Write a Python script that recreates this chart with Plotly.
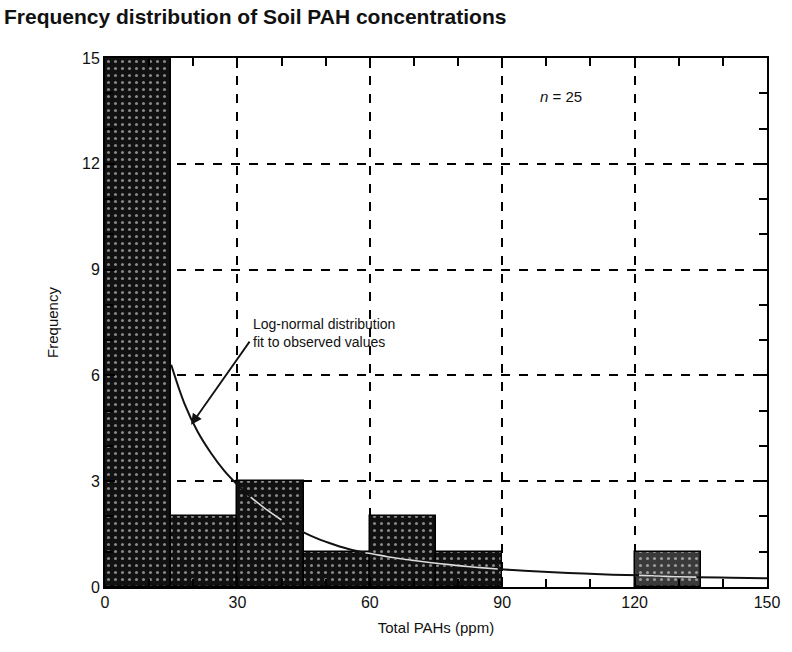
import plotly.graph_objects as go

# Histogram data (bins of 15 ppm)
bin_left = [0, 15, 30, 45, 60, 75, 120]
bin_width = 15
counts = [15, 2, 3, 1, 2, 1, 1]

# Log-normal fit curve
fit_x = [15, 18, 21, 24, 27, 30, 33, 36, 40, 45, 48, 52, 56, 59, 61, 64, 67, 70, 74, 76, 79,
         82, 85, 89, 95, 105, 115, 121, 124, 127, 130, 134, 142, 150]
fit_y = [6.3, 5.2, 4.4, 3.8, 3.3, 2.9, 2.55, 2.25, 1.9, 1.55, 1.38, 1.2, 1.05, 0.97, 0.93, 0.86,
         0.8, 0.75, 0.69, 0.66, 0.62, 0.58, 0.55, 0.51, 0.46, 0.4, 0.35, 0.33, 0.32, 0.3, 0.29,
         0.28, 0.26, 0.25]

x_ticks = [0, 30, 60, 90, 120, 150]
y_ticks = [0, 3, 6, 9, 12, 15]

bar_colors = ["#111111"] * 6 + ["#3a3a3a"]

centers = [b + bin_width / 2 for b in bin_left]


def height_at(x):
    for b, c in zip(bin_left, counts):
        if b < x < b + bin_width:
            return c
    return 0


# portion of the curve that lies over the black bars is seen as a pale line
inside_y = [y if y < height_at(x) else None for x, y in zip(fit_x, fit_y)]

fig = go.Figure()
fig.add_trace(go.Bar(
    x=centers, y=counts, width=[bin_width] * len(counts),
    marker=dict(color=bar_colors, line=dict(color="#000000", width=1.5),
                pattern=dict(shape=".", fgcolor="#bbbbbb", bgcolor="#111111",
                             size=7, solidity=0.15)),
    showlegend=False, hoverinfo="skip",
))
fig.add_trace(go.Scatter(
    x=fit_x, y=fit_y, mode="lines", line=dict(color="#111111", width=2, shape="spline"),
    showlegend=False, hoverinfo="skip",
))
fig.add_trace(go.Scatter(
    x=fit_x, y=inside_y, mode="lines", line=dict(color="#dddddd", width=1.6, shape="spline"),
    showlegend=False, hoverinfo="skip", connectgaps=False,
))

fig.add_annotation(
    x=19.5, y=4.6, ax=33, ay=7.0, axref="x", ayref="y",
    text="", showarrow=True, arrowhead=2, arrowsize=1.2, arrowwidth=1.8, arrowcolor="#111111",
)
fig.add_annotation(
    x=33, y=7.2, xanchor="left", yanchor="middle",
    text="Log-normal distribution<br>fit to observed values",
    showarrow=False, align="left",
    font=dict(family="Liberation Sans, Arial", size=14, color="#111111"),
)
fig.add_annotation(
    x=98, y=13.9, xanchor="left", showarrow=False,
    text="<i>n</i> = 25",
    font=dict(family="Liberation Sans, Arial", size=15, color="#111111"),
)

axis_common = dict(
    showline=True, linecolor="#000000", linewidth=2, mirror="allticks",
    ticks="inside", ticklen=10, tickwidth=2, tickcolor="#000000",
    showgrid=True, gridcolor="#000000", griddash="dash", gridwidth=1.5,
    zeroline=False,
    tickfont=dict(family="Liberation Sans, Arial", size=16, color="#111111"),
)

fig.update_xaxes(
    range=[0, 150], tickvals=x_ticks, ticktext=[str(v) for v in x_ticks],
    minor=dict(dtick=10, tick0=0, ticks="inside", ticklen=8, tickwidth=1.5, tickcolor="#000000", showgrid=False),
    title=dict(text="Total PAHs (ppm)", font=dict(family="Liberation Sans, Arial", size=15, color="#111111"), standoff=12),
    **axis_common,
)
fig.update_yaxes(
    range=[0, 15], tickvals=y_ticks, ticktext=[str(v) for v in y_ticks],
    minor=dict(dtick=1, tick0=0, ticks="inside", ticklen=8, tickwidth=1.5, tickcolor="#000000", showgrid=False),
    title=dict(text="Frequency", font=dict(family="Liberation Sans, Arial", size=15, color="#111111"), standoff=20),
    **axis_common,
)

fig.update_layout(
    width=792, height=652,
    margin=dict(l=105, r=22, t=58, b=65),
    paper_bgcolor="white", plot_bgcolor="white",
    bargap=0,
    title=dict(text="<b>Frequency distribution of Soil PAH concentrations</b>",
               x=0.005, xanchor="left", y=0.985, yanchor="top",
               font=dict(family="Liberation Sans, Arial", size=21, color="#111111")),
)

fig.write_html("out.html")
